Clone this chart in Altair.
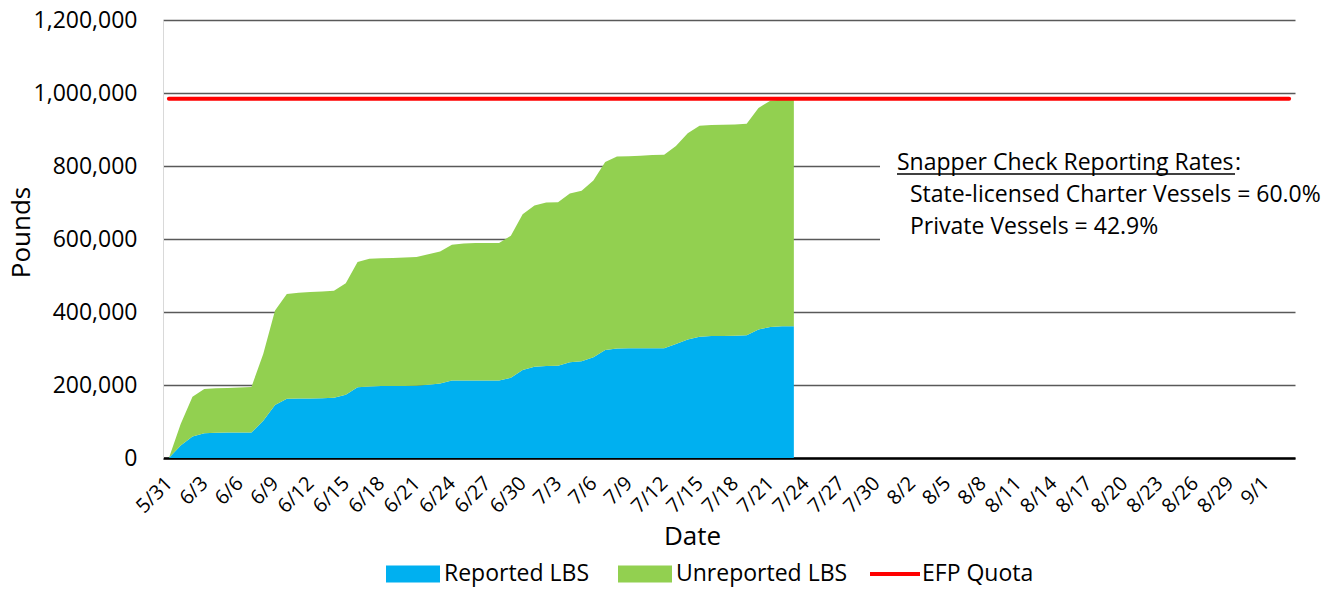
import altair as alt
import pandas as pd

# ---------------- data ----------------
report_days = list(range(54))          # day index from 5/31 (0) to 7/23 (53)
total_lbs = [0, 93000, 168000, 189000, 191000, 192000, 193000, 194500, 285000, 404000,
             449000, 453000, 455000, 456000, 458000, 479000, 537000, 546000, 547000, 548000,
             549000, 551000, 558000, 566000, 584000, 588000, 589000, 589000, 589000, 609000,
             668000, 692000, 700000, 701000, 725000, 732000, 760000, 811000, 826000, 827000,
             828000, 830000, 831000, 855000, 890000, 910000, 912000, 913000, 914000, 916000,
             959000, 979000, 982000, 982000]
reported_lbs = [0, 34000, 59000, 68000, 69000, 70000, 70000, 70000, 102000, 145000,
                162000, 163000, 163000, 164000, 165000, 173000, 194000, 196000, 197000, 197000,
                197000, 198000, 201000, 204000, 212000, 212000, 212000, 212000, 212000, 220000,
                241000, 250000, 252000, 253000, 262000, 265000, 276000, 296000, 300000, 301000,
                301000, 301000, 301000, 312000, 325000, 332000, 334000, 334000, 335000, 336000,
                352000, 359000, 361000, 361000]
axis_days = [-0.5, 95.5]               # 5/31 .. 9/3 category span
quota_days = [0, 95]
quota_lbs = 984000
tick_days = list(range(0, 94, 3))
tick_labels = ["5/31", "6/3", "6/6", "6/9", "6/12", "6/15", "6/18", "6/21", "6/24", "6/27",
               "6/30", "7/3", "7/6", "7/9", "7/12", "7/15", "7/18", "7/21", "7/24", "7/27",
               "7/30", "8/2", "8/5", "8/8", "8/11", "8/14", "8/17", "8/20", "8/23", "8/26",
               "8/29", "9/1"]
y_ticks = [0, 200000, 400000, 600000, 800000, 1000000, 1200000]
area_series = ["Reported LBS", "Unreported LBS"]
line_series = ["EFP Quota"]
note_lines = ["Snapper Check Reporting Rates", ":",
              "State-licensed Charter Vessels = 60.0%", "Private Vessels = 42.9%"]

rows = []
for d, tot, rep in zip(report_days, total_lbs, reported_lbs):
    rows.append({"day": d, "series": area_series[0], "lbs": rep, "ord": 0})
    rows.append({"day": d, "series": area_series[1], "lbs": tot - rep, "ord": 1})
df = pd.DataFrame(rows)
df_q = pd.DataFrame({"day": [quota_days[0]], "day_end": [quota_days[1]], "lbs": [quota_lbs],
                     "series": line_series})
one = pd.DataFrame({"a": [0]})

FONT = "Open Sans"
x_scale = alt.Scale(domain=axis_days, nice=False, zero=False)
y_scale = alt.Scale(domain=[0, 1200000], nice=False)
x_label_expr = "[" + ",".join(f"'{t}'" for t in tick_labels) + "][round(datum.value/3)]"

x_axis = alt.Axis(values=tick_days, labelExpr=x_label_expr, labelAngle=-45,
                  labelAlign="right", labelBaseline="middle", labelFont=FONT,
                  labelFontSize=20, labelColor="black", labelPadding=22,
                  labelOverlap=False, labelFlush=False, ticks=False, tickSize=0,
                  grid=False, domainColor="black", domainWidth=2.5,
                  titleFont=FONT, titleFontSize=26, titleFontWeight="normal",
                  titleColor="black", titleX=529, titleY=78,
                  titleBaseline="middle", titleAlign="center")
y_axis = alt.Axis(values=y_ticks, labelExpr="format(datum.value, ',')", labelFont=FONT,
                  labelFontSize=23, labelColor="black", labelPadding=26, ticks=False,
                  tickSize=0, grid=True, gridColor="#595959", gridWidth=1.3,
                  domainColor="#D9D9D9", domainWidth=1,
                  titleFont=FONT, titleFontSize=26, titleFontWeight="normal",
                  titleColor="black", titleX=-142, titleY=212, titleAngle=270,
                  titleBaseline="middle", titleAlign="center")

area = alt.Chart(df).mark_area(interpolate="linear", opacity=1).encode(
    x=alt.X("day:Q", scale=x_scale, title="Date", axis=x_axis),
    y=alt.Y("lbs:Q", stack="zero", scale=y_scale, title="Pounds", axis=y_axis),
    fill=alt.Fill("series:N",
                  scale=alt.Scale(domain=area_series, range=["#00B0F0", "#92D050"]),
                  legend=alt.Legend(orient="none", legendX=223, legendY=527,
                                    direction="horizontal", title=None,
                                    symbolType="M-1,-0.315H1V0.315H-1Z", symbolSize=2916,
                                    symbolStrokeWidth=0, symbolOpacity=1,
                                    labelFont=FONT, labelFontSize=23, labelColor="black",
                                    labelOffset=4, columnPadding=28, labelLimit=400)),
    order=alt.Order("ord:Q"),
)

box = alt.Chart(one).mark_rect(color="white").encode(
    x=alt.value(717), x2=alt.value(1180), y=alt.value(120), y2=alt.value(226))

quota = alt.Chart(df_q).mark_rule(strokeWidth=4, strokeCap="round").encode(
    x=alt.X("day:Q", scale=x_scale, title="Date", axis=x_axis),
    x2="day_end:Q",
    y=alt.Y("lbs:Q", scale=y_scale, title="Pounds", axis=y_axis),
    stroke=alt.Stroke("series:N", scale=alt.Scale(domain=line_series, range=["#FF0000"]),
                      legend=alt.Legend(orient="none", legendX=705, legendY=527,
                                        direction="horizontal", title=None,
                                        symbolType="stroke", symbolSize=2500,
                                        symbolStrokeWidth=4, labelFont=FONT,
                                        labelFontSize=23, labelColor="black",
                                        labelOffset=0, labelLimit=400)),
)

def note(text, px, py):
    return alt.Chart(one).mark_text(align="left", baseline="alphabetic", font=FONT,
                                    fontSize=23, color="black").encode(
        x=alt.value(px), y=alt.value(py), text=alt.value(text))

underline = alt.Chart(one).mark_rule(color="black", strokeWidth=1.3).encode(
    x=alt.value(734), x2=alt.value(1072), y=alt.value(154))

chart = alt.layer(
    area, box, quota,
    note(note_lines[0], 734, 150), note(note_lines[1], 1072, 150), underline,
    note(note_lines[2], 747, 182), note(note_lines[3], 747, 214),
).resolve_legend(fill="independent", stroke="independent").properties(
    width=1132, height=438,
    autosize=alt.AutoSizeParams(type="none"),
    padding={"left": 155, "top": 12, "right": 37, "bottom": 130},
    background="white",
).configure_view(stroke=None)

chart.save("out.html", embed_options={"renderer": "svg", "actions": False})
